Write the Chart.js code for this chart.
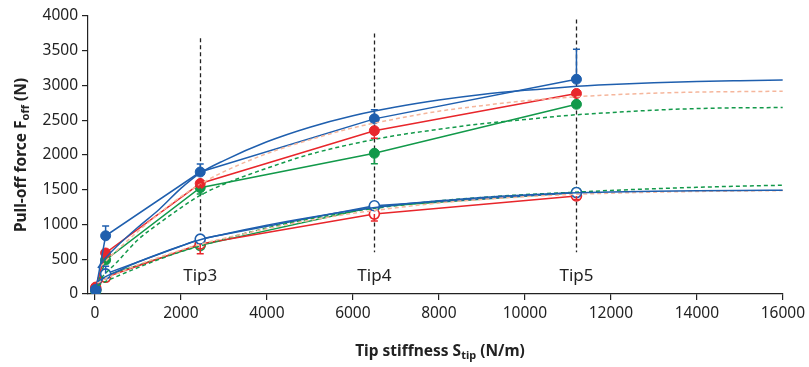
<!DOCTYPE html>
<html>
<head>
<meta charset="utf-8">
<script src="https://cdn.jsdelivr.net/npm/chart.js@4.4.1/dist/chart.umd.min.js"></script>
<style>
  body { margin: 0; background: #fff; }
  #wrap { width: 809px; height: 367px; }
</style>
</head>
<body>
<div id="wrap"><canvas id="c"></canvas></div>
<script>
// measured tip stiffness (N/m)
const stiff = [20, 250, 2450, 6500, 11200]

// filled markers (upper group)
const blueFilled = [60, 838, 1755, 2520, 3090]
const redFilled = [100, 590, 1590, 2350, 2885]
const greenFilled = [60, 490, 1530, 2025, 2730]
// open markers (lower group)
const blueOpen = [60, 290, 790, 1270, 1460]
const redOpen = [80, 240, 720, 1150, 1410]
const greenOpen = [50, 265, 700, 1255, 1460]

// error bars (blue drawn up, red / green drawn down)
const blueFilledErr = [0, 140, 115, 130, 430]
const redFilledErr = [0, 0, 40, 110, 0]
const greenFilledErr = [0, 0, 90, 150, 40]
const blueOpenErr = [0, 110, 0, 0, 0]
const redOpenErr = [0, 0, 140, 100, 50]
const greenOpenErr = [0, 0, 0, 0, 0]

// fitted curves
const fitX = [250, 500, 1000, 1500, 2000, 2450, 3000, 4000, 5000, 6000, 7000, 8000, 9000, 10000, 11000, 12000, 13000, 14000, 15000, 16000]
const blueFitHi = [520, 680, 960, 1220, 1520, 1740, 1920, 2190, 2400, 2565, 2690, 2790, 2870, 2930, 2980, 3015, 3040, 3058, 3070, 3080]
const orangeFitHi = [470, 620, 900, 1160, 1400, 1580, 1760, 2020, 2220, 2390, 2520, 2630, 2710, 2780, 2830, 2865, 2890, 2905, 2912, 2917]
const greenFitHi = [300, 450, 780, 1020, 1240, 1420, 1580, 1810, 2010, 2160, 2280, 2370, 2450, 2510, 2570, 2610, 2645, 2668, 2680, 2682]
const blueFitLo = [250, 320, 460, 580, 690, 780, 860, 990, 1100, 1200, 1280, 1340, 1390, 1425, 1452, 1468, 1478, 1485, 1490, 1493]
const orangeFitLo = [220, 290, 420, 530, 630, 715, 800, 940, 1060, 1160, 1240, 1310, 1360, 1400, 1430, 1450, 1465, 1475, 1482, 1488]
const greenFitLo = [180, 250, 380, 500, 610, 690, 790, 950, 1080, 1190, 1270, 1340, 1390, 1430, 1460, 1490, 1515, 1535, 1552, 1565]

// vertical marker lines
const tipNames = ['Tip3', 'Tip4', 'Tip5']
const tipX = [2450, 6500, 11200]
const tipTop = [3680, 3750, 3950]
const tipBottom = 600

const xTicks = [0, 2000, 4000, 6000, 8000, 10000, 12000, 14000, 16000]

const BLUE = '#1f5fae'
const RED = '#e8262b'
const GREEN = '#12994a'
const ORANGE = '#f5b69c'
const FONT = "'Noto Sans', sans-serif"

function pts(xs, ys) {
    return xs.map((x, i) => ({ x: x, y: ys[i] }))
}

function fit(label, ys, color, dashed, first) {
    return {
        label: label,
        data: pts([first[0]].concat(fitX), [first[1]].concat(ys)),
        borderColor: color,
        borderWidth: 1.5,
        borderDash: dashed ? [4, 3] : [],
        pointRadius: 0,
        showLine: true,
        tension: 0.4,
        cubicInterpolationMode: 'monotone',
        fill: false
    }
}

function meas(label, ys, color, open, err, dir) {
    return {
        label: label,
        data: pts(stiff, ys),
        borderColor: color,
        backgroundColor: open ? '#ffffff' : color,
        pointBorderColor: color,
        pointBackgroundColor: open ? '#ffffff' : color,
        pointRadius: 5,
        pointBorderWidth: open ? 1.6 : 1,
        borderWidth: 1.5,
        showLine: true,
        tension: 0,
        err: err,
        errDir: dir
    }
}

const datasets = [
    fit('blue fit hi', blueFitHi, BLUE, false, [70, 375]),
    fit('orange fit hi', orangeFitHi, ORANGE, true, [150, 400]),
    fit('green fit hi', greenFitHi, GREEN, true, [150, 230]),
    fit('blue fit lo', blueFitLo, BLUE, false, [60, 180]),
    fit('orange fit lo', orangeFitLo, ORANGE, true, [60, 160]),
    fit('green fit lo', greenFitLo, GREEN, true, [60, 120]),
    meas('blue filled', blueFilled, BLUE, false, blueFilledErr, -1),
    meas('blue open', blueOpen, BLUE, true, blueOpenErr, -1),
    meas('red filled', redFilled, RED, false, redFilledErr, 1),
    meas('red open', redOpen, RED, true, redOpenErr, 1),
    meas('green filled', greenFilled, GREEN, false, greenFilledErr, 1),
    meas('green open', greenOpen, GREEN, true, greenOpenErr, 1)
]

// dashed tip lines + labels, drawn under the data
const tipPlugin = {
    id: 'tips',
    beforeDatasetsDraw(chart) {
        const ctx = chart.ctx, xs = chart.scales.x, ys = chart.scales.y
        ctx.save()
        ctx.strokeStyle = '#222'
        ctx.lineWidth = 1.3
        ctx.setLineDash([4, 3])
        tipX.forEach((t, i) => {
            const px = Math.round(xs.getPixelForValue(t)) + 0.5
            ctx.beginPath()
            ctx.moveTo(px, ys.getPixelForValue(tipTop[i]))
            ctx.lineTo(px, ys.getPixelForValue(tipBottom))
            ctx.stroke()
        })
        ctx.setLineDash([])
        ctx.fillStyle = '#222'
        ctx.font = '17px ' + FONT
        ctx.textAlign = 'center'
        ctx.textBaseline = 'middle'
        tipX.forEach((t, i) => {
            ctx.fillText(tipNames[i], xs.getPixelForValue(t), ys.getPixelForValue(255))
        })
        ctx.restore()
    }
}

// one-sided error bars with caps
const errPlugin = {
    id: 'errbars',
    afterDatasetsDraw(chart) {
        const ctx = chart.ctx, xs = chart.scales.x, ys = chart.scales.y
        ctx.save()
        chart.data.datasets.forEach(ds => {
            if (!ds.err) return
            ctx.strokeStyle = ds.borderColor
            ctx.lineWidth = 1.5
            ds.data.forEach((p, i) => {
                const e = ds.err[i]
                if (!e) return
                const px = xs.getPixelForValue(p.x)
                const y0 = ys.getPixelForValue(p.y)
                const y1 = ys.getPixelForValue(p.y - ds.errDir * e)
                ctx.beginPath()
                ctx.moveTo(px, y0)
                ctx.lineTo(px, y1)
                ctx.moveTo(px - 3.5, y1)
                ctx.lineTo(px + 3.5, y1)
                ctx.stroke()
            })
        })
        ctx.restore()
    }
}

// axis titles with subscripts
function subText(ctx, parts, x, y) {
    let w = 0
    parts.forEach(p => {
        ctx.font = 'bold ' + (p.sub ? 11 : 15.5) + 'px ' + FONT
        w += ctx.measureText(p.t).width
    })
    let cx = x - w / 2
    parts.forEach(p => {
        ctx.font = 'bold ' + (p.sub ? 11 : 15.5) + 'px ' + FONT
        ctx.fillText(p.t, cx, y + (p.sub ? 4 : 0))
        cx += ctx.measureText(p.t).width
    })
}

const titlePlugin = {
    id: 'titles',
    afterDraw(chart) {
        const ctx = chart.ctx
        ctx.save()
        ctx.fillStyle = '#222'
        ctx.textAlign = 'left'
        ctx.textBaseline = 'middle'
        subText(ctx, [{ t: 'Tip stiffness S' }, { t: 'tip', sub: true }, { t: ' (N/m)' }], 440, 352)
        ctx.translate(22, 155)
        ctx.rotate(-Math.PI / 2)
        subText(ctx, [{ t: 'Pull-off force F' }, { t: 'off', sub: true }, { t: ' (N)' }], 0, 0)
        ctx.restore()
    }
}

new Chart(document.getElementById('c'), {
    type: 'scatter',
    data: { datasets: datasets },
    plugins: [tipPlugin, errPlugin, titlePlugin],
    options: {
        responsive: true,
        maintainAspectRatio: false,
        animation: false,
        layout: { padding: { left: 0, right: 26, top: 16, bottom: 0 } },
        plugins: { legend: { display: false }, tooltip: { enabled: false } },
        scales: {
            x: {
                type: 'linear',
                min: -160,
                max: 16000,
                afterBuildTicks: s => { s.ticks = xTicks.map(v => ({ value: v })) },
                afterFit: s => { s.height = 73 },
                grid: { display: true, drawOnChartArea: false, color: '#222', tickLength: 6, lineWidth: 1.2 },
                border: { color: '#222', width: 1.2 },
                ticks: { color: '#222', font: { family: FONT, size: 15.5 }, padding: 4, maxRotation: 0, callback: v => String(v) }
            },
            y: {
                min: 0,
                max: 4000,
                afterFit: s => { s.width = 88 },
                grid: { display: true, drawOnChartArea: false, color: '#222', tickLength: 6, lineWidth: 1.2 },
                border: { color: '#222', width: 1.2 },
                ticks: { stepSize: 500, color: '#222', font: { family: FONT, size: 15.5 }, padding: 4, callback: v => String(v) }
            }
        }
    }
})
</script>
</body>
</html>
